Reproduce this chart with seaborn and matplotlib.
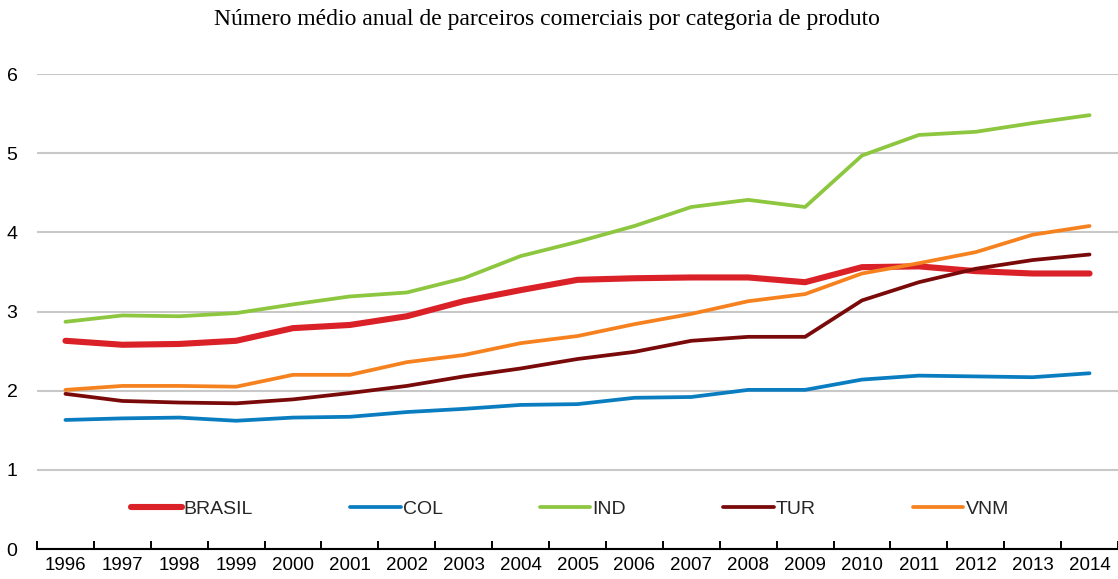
import numpy as np
import pandas as pd
import seaborn as sns
import matplotlib.pyplot as plt

# Average number of trading partners per product category, by year
years = list(range(1996, 2015))
brasil = [2.63, 2.58, 2.59, 2.63, 2.79, 2.83, 2.94, 3.13, 3.27, 3.40,
          3.42, 3.43, 3.43, 3.37, 3.56, 3.57, 3.51, 3.48, 3.48]
col = [1.63, 1.65, 1.66, 1.62, 1.66, 1.67, 1.73, 1.77, 1.82, 1.83,
       1.91, 1.92, 2.01, 2.01, 2.14, 2.19, 2.18, 2.17, 2.22]
ind = [2.87, 2.95, 2.94, 2.98, 3.09, 3.19, 3.24, 3.42, 3.70, 3.88,
       4.08, 4.32, 4.41, 4.32, 4.97, 5.23, 5.27, 5.38, 5.48]
tur = [1.96, 1.87, 1.85, 1.84, 1.89, 1.97, 2.06, 2.18, 2.28, 2.40,
       2.49, 2.63, 2.68, 2.68, 3.14, 3.37, 3.54, 3.65, 3.72]
vnm = [2.01, 2.06, 2.06, 2.05, 2.20, 2.20, 2.36, 2.45, 2.60, 2.69,
       2.84, 2.97, 3.13, 3.22, 3.48, 3.61, 3.75, 3.97, 4.08]

series_names = ["BRASIL", "COL", "IND", "TUR", "VNM"]
series_values = [brasil, col, ind, tur, vnm]
colors = {"BRASIL": "#DA2128", "COL": "#0A7DC1", "IND": "#8DC63F",
          "TUR": "#7A0A0A", "VNM": "#F5821F"}
widths = {"BRASIL": 4.4, "COL": 2.7, "IND": 2.7, "TUR": 2.7, "VNM": 2.7}

title = "Número médio anual de parceiros comerciais por categoria de produto"

df = pd.DataFrame({name: vals for name, vals in zip(series_names, series_values)})
df["ano"] = years

sns.set_theme(style="white")
plt.rcParams["font.family"] = ["Liberation Sans Narrow", "Liberation Sans", "DejaVu Sans"]

fig = plt.figure(figsize=(11.18, 5.79), dpi=100)
ax = fig.add_axes([37 / 1118, 30 / 579, 1081 / 1118, 475 / 579])

for name in series_names:
    sns.lineplot(data=df, x="ano", y=name, color=colors[name],
                 linewidth=widths[name], label=name, ax=ax,
                 solid_capstyle="round", zorder=3)

ax.set_xlim(1995.5, 2014.5)
ax.set_ylim(0, 6)
ax.set_xlabel("")
ax.set_ylabel("")

# category labels centred, tick marks on the boundaries between years
ax.set_xticks(years)
ax.set_xticklabels([str(y) for y in years])
ax.set_xticks(np.arange(1995.5, 2015.0, 1.0), minor=True)
ax.tick_params(axis="x", which="major", length=0, pad=6, labelsize=13.5, colors="black")
ax.tick_params(axis="x", which="minor", direction="in", length=6, width=1.4,
               color="black", bottom=True)
ax.set_yticks(range(0, 7))
ax.tick_params(axis="y", length=0, pad=14, labelsize=14, colors="black")

ax.yaxis.grid(True, color="#C8C8C8", linewidth=1.5, zorder=0)
ax.xaxis.grid(False)
ax.set_axisbelow(True)
for side in ["top", "right", "left"]:
    ax.spines[side].set_visible(False)
ax.spines["bottom"].set_color("black")
ax.spines["bottom"].set_linewidth(1.5)

leg = ax.legend(loc="center", bbox_to_anchor=(0.493, 0.084), ncol=5,
                frameon=False, fontsize=14, handlelength=2.6,
                handletextpad=0.1, columnspacing=5.0)

fig.text(547 / 1118, 1 - 20 / 579, title, ha="center", va="center",
         fontsize=17, family=["Liberation Serif", "DejaVu Serif"], color="black")

fig.savefig("out.png", dpi=100, facecolor="white")
